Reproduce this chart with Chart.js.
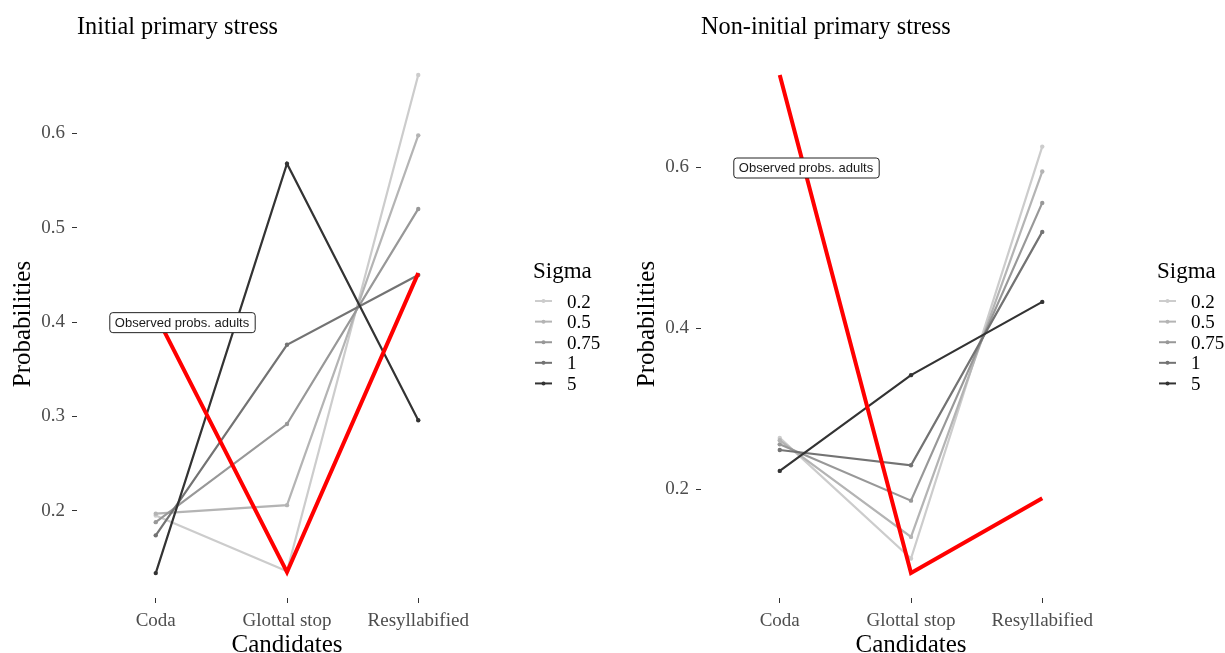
<!DOCTYPE html>
<html>
<head>
<meta charset="utf-8">
<script src="https://cdn.jsdelivr.net/npm/chart.js"></script>
<style>
  html, body { margin: 0; padding: 0; background: #ffffff; }
  body { width: 1225px; height: 653px; position: relative; overflow: hidden; }
  .panel { position: absolute; top: 0; width: 601px; height: 653px; }
  #leftPanel { left: 0; }
  #rightPanel { left: 624px; }
</style>
</head>
<body>
<div class="panel" id="leftPanel"><canvas id="initialChart" width="601" height="653"></canvas></div>
<div class="panel" id="rightPanel"><canvas id="nonInitialChart" width="601" height="653"></canvas></div>
<script type="text/javascript">

const candidates = ['Coda', 'Glottal stop', 'Resyllabified'];
const sigmas = ['0.2', '0.5', '0.75', '1', '5'];

// Initial primary stress: predicted probabilities for each sigma
const initialSigma02 = [0.195, 0.136, 0.662];
const initialSigma05 = [0.197, 0.206, 0.598];
const initialSigma075 = [0.188, 0.292, 0.520];
const initialSigma1 = [0.174, 0.376, 0.450];
const initialSigma5 = [0.134, 0.568, 0.296];
const initialObserved = [0.408, 0.135, 0.452];

// Non-initial primary stress
const nonInitialSigma02 = [0.264, 0.114, 0.626];
const nonInitialSigma05 = [0.261, 0.141, 0.595];
const nonInitialSigma075 = [0.256, 0.186, 0.556];
const nonInitialSigma1 = [0.249, 0.230, 0.520];
const nonInitialSigma5 = [0.223, 0.342, 0.433];
const nonInitialObserved = [0.715, 0.096, 0.189];

const initialTicks = [0.2, 0.3, 0.4, 0.5, 0.6];
const nonInitialTicks = [0.2, 0.4, 0.6];

const observedLabel = 'Observed probs. adults';
const initialLabelAt = [1.2, 0.4];
const nonInitialLabelAt = [1.2, 0.6];

const greys = ['#CCCCCC', '#B4B4B4', '#989898', '#737373', '#333333'];
const SERIF = '"Liberation Serif", "Times New Roman", serif';
const SANS = '"Liberation Sans", Arial, sans-serif';

// legend drawn to the right of the plot area, ggplot-style
const sigmaLegend = {
    id: 'sigmaLegend',
    afterDraw(chart) {
        const { ctx, chartArea } = chart;
        const x0 = chartArea.right + 36;
        const cy = (chartArea.top + chartArea.bottom) / 2;
        ctx.save();
        ctx.fillStyle = '#000000';
        ctx.textBaseline = 'alphabetic';
        ctx.textAlign = 'left';
        ctx.font = '23px ' + SERIF;
        ctx.fillText('Sigma', x0, cy - 46);
        ctx.font = '19px ' + SERIF;
        chart.data.datasets.filter(d => d.sigma).forEach((d, i) => {
            const y = cy - 23 + i * 20.6;
            ctx.strokeStyle = d.borderColor;
            ctx.lineWidth = 2;
            ctx.beginPath();
            ctx.moveTo(x0 + 2, y);
            ctx.lineTo(x0 + 19, y);
            ctx.stroke();
            ctx.fillStyle = d.borderColor;
            ctx.beginPath();
            ctx.arc(x0 + 10.5, y, 2, 0, Math.PI * 2);
            ctx.fill();
            ctx.fillStyle = '#000000';
            ctx.fillText(d.sigma, x0 + 34, y + 6.5);
        });
        ctx.restore();
    }
};

// boxed text label placed in data coordinates
const boxLabel = {
    id: 'boxLabel',
    afterDatasetsDraw(chart, args, opts) {
        const { ctx, scales } = chart;
        const cx = scales.x.getPixelForValue(opts.at[0]);
        const cy = scales.y.getPixelForValue(opts.at[1]);
        ctx.save();
        ctx.font = '13px ' + SANS;
        const w = ctx.measureText(opts.text).width + 11;
        const h = 20;
        const x = cx - w / 2, y = cy - h / 2;
        ctx.beginPath();
        ctx.roundRect(x + 0.5, y + 0.5, w, h, 3);
        ctx.fillStyle = '#ffffff';
        ctx.fill();
        ctx.strokeStyle = '#222222';
        ctx.lineWidth = 1;
        ctx.stroke();
        ctx.fillStyle = '#1a1a1a';
        ctx.textAlign = 'center';
        ctx.textBaseline = 'middle';
        ctx.fillText(opts.text, cx, cy + 1);
        ctx.restore();
    }
};

function paddedRange(series) {
    const all = series.flat();
    const lo = Math.min(...all);
    const hi = Math.max(...all);
    const pad = (hi - lo) * 0.05;
    return [lo - pad, hi + pad];
}

function toPoints(values) {
    return values.map((v, i) => ({ x: i + 1, y: v }));
}

function makeChart(canvasId, title, sigmaSeries, observed, yTicks, labelAt) {
    const datasets = sigmaSeries.map((values, i) => ({
        label: 'Sigma ' + sigmas[i],
        sigma: sigmas[i],
        data: toPoints(values),
        borderColor: greys[i],
        backgroundColor: greys[i],
        borderWidth: 2.2,
        pointRadius: 2.2,
        pointBorderWidth: 0,
        order: sigmas.length - i,
    }));
    datasets.push({
        label: observedLabel,
        data: toPoints(observed),
        borderColor: '#FF0000',
        backgroundColor: '#FF0000',
        borderWidth: 4,
        pointRadius: 0,
        order: 0,
    });

    const [yMin, yMax] = paddedRange([...sigmaSeries, observed]);

    const ctx = document.getElementById(canvasId).getContext('2d');
    return new Chart(ctx, {
        type: 'line',
        data: { datasets },
        plugins: [sigmaLegend, boxLabel],
        options: {
            responsive: false,
            animation: false,
            events: [],
            layout: { padding: { left: 0, right: 104, top: 0, bottom: 0 } },
            elements: { line: { tension: 0 } },
            plugins: {
                legend: { display: false },
                tooltip: { enabled: false },
                title: {
                    display: true,
                    text: title,
                    align: 'start',
                    fullSize: false,
                    color: '#000000',
                    font: { family: SERIF, size: 24.3, weight: 'normal', lineHeight: 1.2 },
                    padding: { top: 13.3, bottom: 7.6 },
                },
                boxLabel: { text: observedLabel, at: labelAt },
            },
            scales: {
                x: {
                    type: 'linear',
                    min: 0.4,
                    max: 3.6,
                    border: { display: false },
                    grid: { drawOnChartArea: false, drawTicks: true, tickLength: 5, tickColor: '#333333', lineWidth: 1 },
                    afterBuildTicks: (scale) => { scale.ticks = candidates.map((c, i) => ({ value: i + 1 })); },
                    afterFit: (scale) => { scale.height = 55; },
                    ticks: {
                        color: '#4D4D4D',
                        padding: 7,
                        font: { family: SERIF, size: 19 },
                        callback: (value) => candidates[value - 1],
                    },
                    title: {
                        display: true,
                        text: 'Candidates',
                        color: '#000000',
                        font: { family: SERIF, size: 25, lineHeight: 1 },
                        padding: { top: 0, bottom: -4.5 },
                    },
                },
                y: {
                    type: 'linear',
                    min: yMin,
                    max: yMax,
                    border: { display: false },
                    grid: { drawOnChartArea: false, drawTicks: true, tickLength: 5, tickColor: '#333333', lineWidth: 1 },
                    afterBuildTicks: (scale) => { scale.ticks = yTicks.map(v => ({ value: v })); },
                    afterFit: (scale) => { scale.width = 77; },
                    ticks: {
                        color: '#4D4D4D',
                        padding: 7,
                        font: { family: SERIF, size: 19 },
                        callback: (value) => String(value),
                    },
                    title: {
                        display: true,
                        text: 'Probabilities',
                        color: '#000000',
                        font: { family: SERIF, size: 25, lineHeight: 1 },
                        padding: { top: 10.7, bottom: 0 },
                    },
                },
            },
        },
    });
}

makeChart('initialChart', 'Initial primary stress',
    [initialSigma02, initialSigma05, initialSigma075, initialSigma1, initialSigma5],
    initialObserved, initialTicks, initialLabelAt);

makeChart('nonInitialChart', 'Non-initial primary stress',
    [nonInitialSigma02, nonInitialSigma05, nonInitialSigma075, nonInitialSigma1, nonInitialSigma5],
    nonInitialObserved, nonInitialTicks, nonInitialLabelAt);
</script>
</body>
</html>
